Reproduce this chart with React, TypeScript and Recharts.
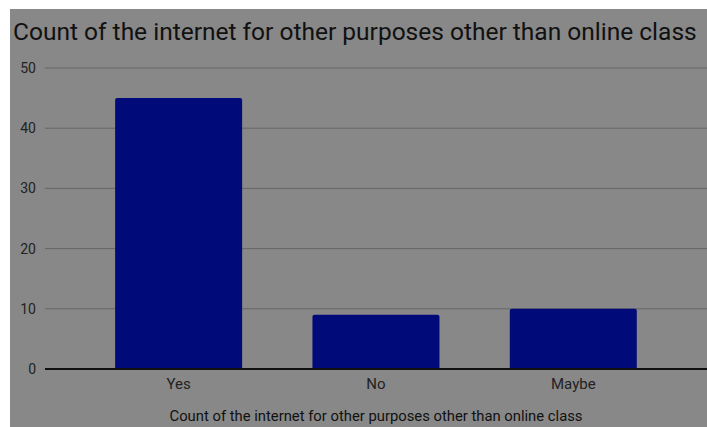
import { BarChart, Bar, XAxis, YAxis, CartesianGrid } from 'recharts';

const categories = ['Yes', 'No', 'Maybe'];
const counts = [45, 9, 10];
const yTicks = [0, 10, 20, 30, 40, 50];

const data = categories.map((name, i) => ({ name, count: counts[i] }));

export default function App() {
  const font = 'Roboto, "Noto Sans", sans-serif';

  return (
    <div
      style={{
        position: 'absolute',
        left: 10,
        top: 9,
        width: 697,
        height: 418,
        background: '#888888',
        fontFamily: font,
      }}
    >
      <div
        style={{
          position: 'absolute',
          left: 3,
          top: 8,
          fontSize: 24.5,
          color: '#111',
          whiteSpace: 'nowrap',
          lineHeight: '30px',
        }}
      >
        Count of the internet for other purposes other than online class
      </div>
      <BarChart
        width={697}
        height={418}
        data={data}
        margin={{ top: 59, right: 0, bottom: 28, left: 0 }}
        barCategoryGap="17.8%"
      >
        <CartesianGrid vertical={false} stroke="#666666" strokeWidth={1} />
        <XAxis
          dataKey="name"
          padding={{ left: 35, right: 35 }}
          axisLine={{ stroke: '#111', strokeWidth: 2 }}
          tickLine={false}
          tickSize={0}
          tickMargin={9}
          tick={{ fill: '#222', fontSize: 15, fontFamily: font }}
        />
        <YAxis
          width={35}
          domain={[0, 50]}
          ticks={yTicks}
          axisLine={false}
          tickLine={false}
          tickSize={0}
          tickMargin={9}
          tick={{ fill: '#222', fontSize: 14, fontFamily: font }}
        />
        <Bar dataKey="count" fill="#000a78" radius={[2, 2, 0, 0]} isAnimationActive={false} />
      </BarChart>
      <div
        style={{
          position: 'absolute',
          left: 35,
          width: 662,
          top: 399,
          textAlign: 'center',
          fontSize: 14.8,
          lineHeight: '17px',
          color: '#111',
          whiteSpace: 'nowrap',
        }}
      >
        Count of the internet for other purposes other than online class
      </div>
    </div>
  );
}
